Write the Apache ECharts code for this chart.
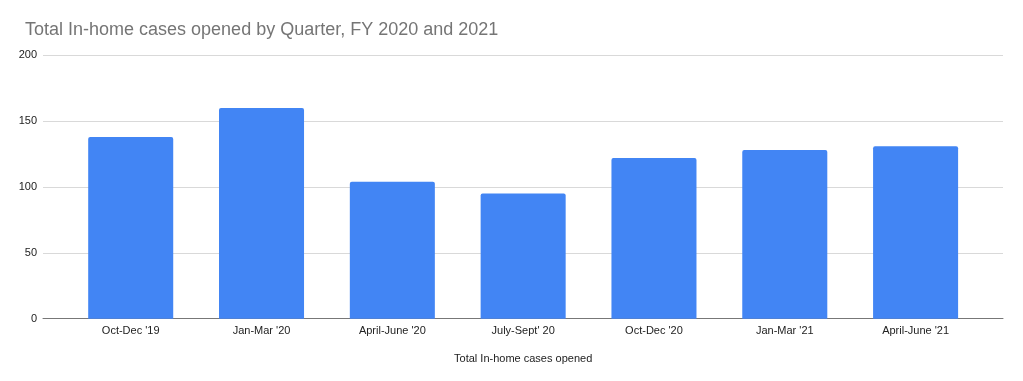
<!DOCTYPE html>
<html>
<head>
<meta charset="utf-8">
<script src="https://cdn.jsdelivr.net/npm/echarts@6/dist/echarts.min.js"></script>
<style>html,body{margin:0;padding:0;background:#fff}#c{width:1023px;height:381px}</style>
</head>
<body>
<div id="c"></div>
<script>
const categories = ["Oct-Dec '19", "Jan-Mar '20", "April-June '20", "July-Sept' 20", "Oct-Dec '20", "Jan-Mar '21", "April-June '21"];
const casesOpened = [138, 160, 104, 95, 122, 128, 131];
const yTicks = [0, 50, 100, 150, 200];

const chart = echarts.init(document.getElementById('c'), null, {renderer: 'canvas'});
const font = 'Arial, "Liberation Sans", sans-serif';
chart.setOption({
  animation: false,
  title: {
    text: 'Total In-home cases opened by Quarter, FY 2020 and 2021',
    left: 20, top: 16,
    textStyle: {fontFamily: font, fontSize: 18, fontWeight: 'normal', color: '#757575'}
  },
  grid: [
    {left: 43, right: 20, top: 55.3, bottom: 62.3},
    {left: 65.3, right: 42, top: 55.3, bottom: 62.3}
  ],
  xAxis: [
    {type: 'category', gridIndex: 0, data: categories,
     axisLine: {lineStyle: {color: '#777', width: 1}}, axisTick: {show: false}, axisLabel: {show: false}},
    {type: 'category', gridIndex: 1, data: categories,
     axisLine: {show: false}, axisTick: {show: false},
     axisLabel: {margin: 7, fontFamily: font, fontSize: 11, color: '#222'},
     name: 'Total In-home cases opened', nameLocation: 'middle', nameGap: 35,
     nameTextStyle: {fontFamily: font, fontSize: 11, color: '#222'}}
  ],
  yAxis: [
    {type: 'value', gridIndex: 0, min: yTicks[0], max: yTicks[yTicks.length - 1], interval: 50,
     axisLine: {show: false}, axisTick: {show: false},
     axisLabel: {margin: 6, fontFamily: font, fontSize: 11, color: '#222'},
     splitLine: {lineStyle: {color: '#d9d9d9', width: 1}}},
    {type: 'value', gridIndex: 1, min: yTicks[0], max: yTicks[yTicks.length - 1], interval: 50, show: false,
     splitLine: {show: false}}
  ],
  series: [{
    type: 'bar', xAxisIndex: 1, yAxisIndex: 1, data: casesOpened,
    barWidth: '65%',
    itemStyle: {color: '#4285F4', borderRadius: [2, 2, 0, 0]}
  }]
});
</script>
</body>
</html>
